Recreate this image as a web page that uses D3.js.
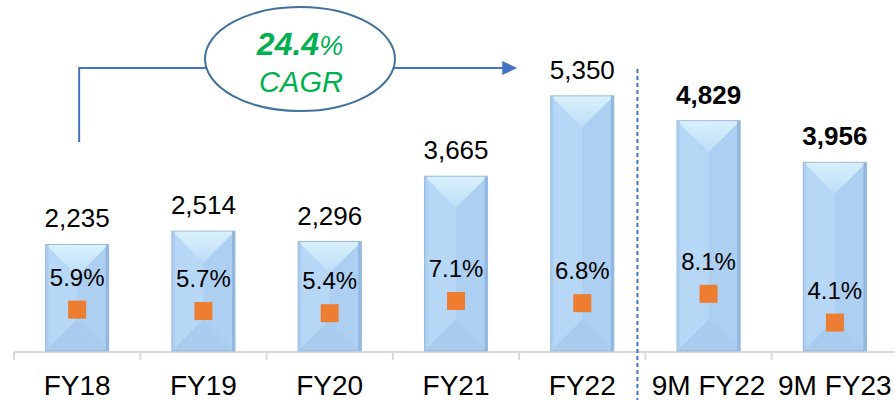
<!DOCTYPE html>
<head>
  <meta charset="utf-8">
  <script src="https://d3js.org/d3.v7.min.js"></script>
  <style>
    body { margin:0; background:#fff; font-family: "Liberation Sans", Arial, sans-serif; }
  </style>
</head>
<body>
  <script>
    // chart values
    var categories = ["FY18", "FY19", "FY20", "FY21", "FY22", "9M FY22", "9M FY23"];
    var revenue = [2235, 2514, 2296, 3665, 5350, 4829, 3956];
    var margin = [5.9, 5.7, 5.4, 7.1, 6.8, 8.1, 4.1];
    var period = ["FY", "FY", "FY", "FY", "FY", "9M", "9M"];
    var cagrValue = "24.4";
    var cagrText = "CAGR";

    var width = 895, height = 400;
    var baseline = 351;

    var data = categories.map(function(c, i) {
      return { cat: c, rev: revenue[i], pct: margin[i], bold: period[i] === "9M" };
    });

    var svg = d3.select("body").append("svg")
      .attr("width", width)
      .attr("height", height);

    var defs = svg.append("defs");
    var g1 = defs.append("linearGradient").attr("id", "topTri")
      .attr("x1", 0).attr("y1", 0).attr("x2", 0).attr("y2", 1);
    g1.append("stop").attr("offset", "0%").attr("stop-color", "#d9f1fc");
    g1.append("stop").attr("offset", "100%").attr("stop-color", "#bcdcf7");

    var x = d3.scaleBand()
      .domain(categories)
      .range([14, 898])
      .paddingInner(0.5)
      .paddingOuter(0.25);

    var y = d3.scaleLinear()
      .domain([0, 7360])
      .range([baseline, 0]);

    var y2 = d3.scaleLinear()
      .domain([0, 49])
      .range([baseline + 1, 0]);

    var bw = x.bandwidth();
    var step = x.step();

    // axis line + ticks at band boundaries
    svg.append("line")
      .attr("x1", 14).attr("x2", 898)
      .attr("y1", baseline + 1).attr("y2", baseline + 1)
      .attr("stroke", "#d9d9d9").attr("stroke-width", 2);

    svg.selectAll(".tick")
      .data(d3.range(categories.length + 1))
      .enter().append("line")
      .attr("x1", function(i) { return 14 + i * step; })
      .attr("x2", function(i) { return 14 + i * step; })
      .attr("y1", baseline + 1).attr("y2", baseline + 9)
      .attr("stroke", "#d9d9d9").attr("stroke-width", 2);

    // bars (bevelled)
    var bars = svg.selectAll(".bar")
      .data(data)
      .enter().append("g")
      .attr("class", "bar");

    bars.append("rect")
      .attr("x", function(d) { return x(d.cat); })
      .attr("y", function(d) { return y(d.rev); })
      .attr("width", bw)
      .attr("height", function(d) { return baseline - y(d.rev); })
      .attr("fill", "#b6d7f6");

    bars.append("rect")
      .attr("x", function(d) { return x(d.cat) + bw / 2; })
      .attr("y", function(d) { return y(d.rev); })
      .attr("width", bw / 2)
      .attr("height", function(d) { return baseline - y(d.rev); })
      .attr("fill", "#accff2");

    bars.append("path")
      .attr("d", function(d) {
        var x0 = x(d.cat), x1 = x0 + bw;
        return "M" + x0 + "," + baseline + "L" + x1 + "," + baseline +
          "L" + (x0 + bw / 2) + "," + (baseline - bw / 2) + "Z";
      })
      .attr("fill", "#a8cbee");

    bars.append("path")
      .attr("d", function(d) {
        var x0 = x(d.cat), x1 = x0 + bw, t = y(d.rev);
        return "M" + x0 + "," + t + "L" + x1 + "," + t +
          "L" + (x0 + bw / 2) + "," + (t + bw / 2) + "Z";
      })
      .attr("fill", "url(#topTri)");

    bars.append("rect")
      .attr("x", function(d) { return x(d.cat); })
      .attr("y", function(d) { return y(d.rev); })
      .attr("width", 3)
      .attr("height", function(d) { return baseline - y(d.rev); })
      .attr("fill", "#a6c9ec").attr("opacity", 0.7);

    bars.append("rect")
      .attr("x", function(d) { return x(d.cat) + bw - 3; })
      .attr("y", function(d) { return y(d.rev); })
      .attr("width", 3)
      .attr("height", function(d) { return baseline - y(d.rev); })
      .attr("fill", "#92b7de");

    bars.append("rect")
      .attr("x", function(d) { return x(d.cat); })
      .attr("y", function(d) { return y(d.rev); })
      .attr("width", bw)
      .attr("height", function(d) { return baseline - y(d.rev); })
      .attr("fill", "none")
      .attr("stroke", "#9abbdd").attr("stroke-width", 1);

    // value labels
    svg.selectAll(".val")
      .data(data)
      .enter().append("text")
      .attr("x", function(d) { return x(d.cat) + bw / 2; })
      .attr("y", function(d) { return y(d.rev) - 17; })
      .attr("text-anchor", "middle")
      .style("font-size", "26px")
      .style("font-weight", function(d) { return d.bold ? "bold" : "normal"; })
      .attr("fill", "#000")
      .text(function(d) { return d3.format(",")(d.rev); });

    // margin markers
    svg.selectAll(".mark")
      .data(data)
      .enter().append("rect")
      .attr("x", function(d) { return x(d.cat) + bw / 2 - 9; })
      .attr("y", function(d) { return y2(d.pct) - 9; })
      .attr("width", 18).attr("height", 18)
      .attr("fill", "#ed7d31");

    svg.selectAll(".pct")
      .data(data)
      .enter().append("text")
      .attr("x", function(d) { return x(d.cat) + bw / 2; })
      .attr("y", function(d) { return y2(d.pct) - 24; })
      .attr("text-anchor", "middle")
      .style("font-size", "24px")
      .attr("fill", "#000")
      .text(function(d) { return d.pct.toFixed(1) + "%"; });

    // category labels
    svg.selectAll(".cat")
      .data(data)
      .enter().append("text")
      .attr("x", function(d) { return x(d.cat) + bw / 2; })
      .attr("y", 395)
      .attr("text-anchor", "middle")
      .style("font-size", "28px")
      .attr("fill", "#000")
      .text(function(d) { return d.cat; });

    // divider between full years and 9M
    var divX = x("9M FY22") - step * 0.25 - 8;
    svg.append("line")
      .attr("x1", divX).attr("x2", divX)
      .attr("y1", 69).attr("y2", 400)
      .attr("stroke", "#4472c4").attr("stroke-width", 2)
      .attr("stroke-dasharray", "4,3");

    // CAGR arrow
    var ax0 = x("FY18") + bw / 2 + 2;
    var ax1 = x("FY22") - bw * 0.53;
    var ay = 68;
    svg.append("path")
      .attr("d", "M" + ax0 + ",142 L" + ax0 + "," + ay + " L" + (ax1 - 12) + "," + ay)
      .attr("fill", "none")
      .attr("stroke", "#4472c4").attr("stroke-width", 2);
    svg.append("path")
      .attr("d", "M" + (ax1 - 15) + "," + (ay - 7) + " L" + ax1 + "," + ay + " L" + (ax1 - 15) + "," + (ay + 7) + "Z")
      .attr("fill", "#4472c4");

    var ex = 300, ey = 59;
    svg.append("ellipse")
      .attr("cx", ex).attr("cy", ey)
      .attr("rx", 95).attr("ry", 52)
      .attr("fill", "#fff")
      .attr("stroke", "#41719c").attr("stroke-width", 2);

    var t1 = svg.append("text")
      .attr("x", ex).attr("y", 55)
      .attr("text-anchor", "middle")
      .attr("fill", "#00b050")
      .style("font-style", "italic");
    t1.append("tspan").style("font-size", "32px").style("font-weight", "bold").text(cagrValue);
    t1.append("tspan").style("font-size", "27px").text("%");

    svg.append("text")
      .attr("x", ex + 1).attr("y", 92)
      .attr("text-anchor", "middle")
      .attr("fill", "#00b050")
      .style("font-style", "italic")
      .style("font-size", "29px")
      .text(cagrText);
  </script>
</body>
